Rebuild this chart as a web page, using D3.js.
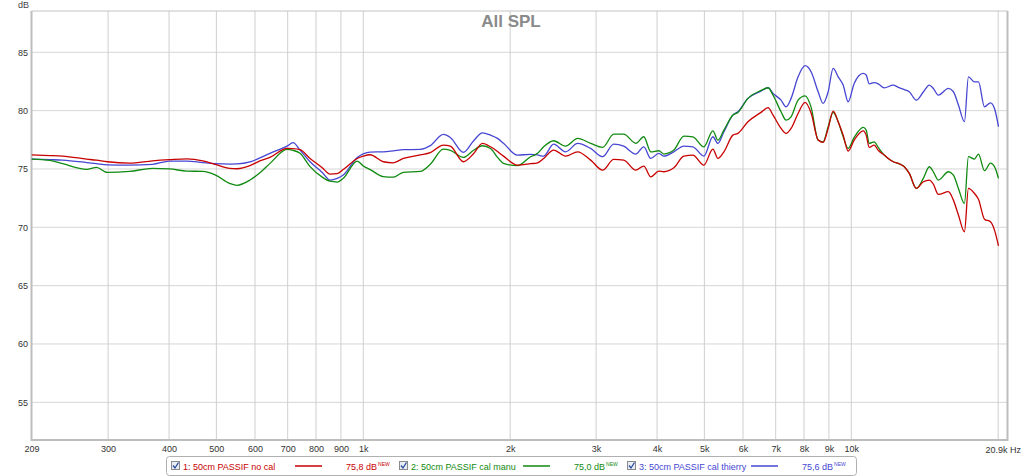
<!DOCTYPE html>
<html>
<head>
<meta charset="utf-8">
<title>All SPL</title>
<script src="https://cdn.jsdelivr.net/npm/d3@7"></script>
<style>
  html, body { margin: 0; padding: 0; background: #fff; }
  svg { display: block; font-family: "Liberation Sans", Arial, sans-serif; }
</style>
</head>
<body>
<div id="chart"></div>
<script>
const FREQS = [
  209, 228, 242, 271, 284, 299, 332, 370, 401, 435,
  469, 497, 533, 551, 586, 614, 644, 698, 718, 742,
  778, 824, 855, 884, 910, 972, 1000, 1033, 1099, 1152,
  1208, 1309, 1372, 1459, 1508, 1604, 1682, 1755, 1823, 1884,
  1938, 2070, 2202, 2276, 2342, 2455, 2598, 2750, 2924, 3094,
  3260, 3418, 3617, 3757, 3883, 4033, 4129, 4329, 4539, 4736,
  4988, 5205, 5330, 5483, 5721, 5858, 6141, 6533, 6752, 6914,
  7180, 7352, 7528, 7780, 8042, 8273, 8553, 8757, 8967, 9181,
  9400, 9625, 9855, 10139, 10579, 10730, 10883, 11143, 11356, 11683,
  12191, 12483, 12842, 13149, 13592, 14050, 14454, 14730, 15083, 15814,
  16192, 16580, 17057, 17382, 17883, 18225, 18749, 19288, 19656, 20032
];

// 1: 50cm PASSIF no cal
const SPL_NO_CAL = [
  76.2, 76.15, 76.1, 75.85, 75.75, 75.62, 75.5, 75.7, 75.8, 75.87,
  75.7, 75.4, 75.05, 75.02, 75.28, 75.7, 75.99, 76.76, 76.75, 76.65,
  75.9, 75.1, 74.56, 74.6, 74.95, 75.9, 76.1, 76.22, 75.62, 75.53,
  75.9, 76.2, 76.4, 77.05, 76.96, 75.62, 76.3, 77.19, 76.9, 76.5,
  76.1, 75.33, 75.45, 75.53, 75.9, 76.62, 76.1, 76.47, 75.76, 74.9,
  75.82, 75.76, 74.9, 75.25, 74.33, 74.82, 74.76, 75.1, 76.1, 76.19,
  75.33, 76.7, 75.9, 76.47, 77.9, 78.05, 79.05, 79.85, 80.25, 79.62,
  78.48, 78.05, 78.48, 79.76, 80.7, 79.8, 77.48, 77.28, 78.48, 79.96,
  79.05, 77.9, 76.53, 77.48, 78.27, 77.9, 76.85, 77.05, 76.6, 76.19,
  75.62, 75.48, 75.19, 74.62, 73.33, 73.9, 74.05, 73.7, 72.82, 73.05,
  72.33, 71.05, 69.62, 73.33, 72.9, 72.4, 70.7, 70.47, 69.76, 68.4
];

// 2: 50cm PASSIF cal manu
const SPL_CAL_MANU = [
  75.85, 75.73, 75.45, 74.97, 75.14, 74.7, 74.79, 75.05, 75.0, 74.82,
  74.79, 74.5, 73.75, 73.6, 74.05, 74.67, 75.48, 76.68, 76.6, 76.34,
  75.2, 74.3, 73.95, 73.88, 74.2, 75.68, 75.25, 74.95, 74.35, 74.3,
  74.71, 74.79, 75.4, 76.7, 76.6, 75.99, 76.6, 76.99, 76.76, 76.0,
  75.48, 75.28, 76.05, 76.34, 76.9, 77.42, 76.96, 77.62, 77.19, 76.85,
  77.99, 77.99, 77.2, 77.76, 76.47, 76.56, 76.28, 76.62, 77.82, 77.76,
  76.9, 78.27, 77.48, 78.33, 79.62, 79.85, 81.05, 81.73, 81.96, 81.33,
  79.9, 79.19, 79.47, 80.9, 81.27, 80.3, 77.48, 77.33, 78.62, 79.85,
  79.05, 77.76, 76.76, 77.7, 78.56, 78.33, 77.19, 77.33, 76.85, 76.19,
  75.62, 75.48, 75.19, 74.62, 73.33, 74.19, 75.19, 74.76, 74.05, 74.76,
  74.48, 73.33, 72.05, 76.05, 75.85, 76.28, 74.85, 75.5, 75.2, 74.19
];

// 3: 50cm PASSIF cal thierry
const SPL_CAL_THIERRY = [
  75.85, 75.8, 75.76, 75.55, 75.45, 75.35, 75.33, 75.4, 75.68, 75.68,
  75.55, 75.46, 75.42, 75.43, 75.6, 75.95, 76.34, 76.96, 77.25, 76.62,
  75.62, 74.7, 74.05, 74.2, 74.48, 75.99, 76.3, 76.45, 76.47, 76.55,
  76.65, 76.68, 77.0, 77.96, 77.7, 76.42, 77.4, 78.1, 77.9, 77.62,
  77.2, 76.19, 76.25, 76.2, 76.1, 77.13, 76.47, 77.19, 76.76, 76.05,
  77.13, 76.95, 76.28, 76.9, 75.9, 76.34, 76.1, 76.47, 76.96, 76.9,
  76.1, 77.76, 77.19, 78.19, 79.62, 79.9, 81.05, 81.67, 81.96, 81.48,
  80.9, 80.33, 81.05, 82.9, 83.85, 83.33, 81.62, 80.62, 81.62, 83.62,
  82.9, 82.19, 80.76, 82.33, 83.19, 83.05, 82.3, 82.4, 82.3, 81.95,
  82.19, 82.0, 81.8, 81.62, 80.9, 81.6, 82.19, 81.9, 81.33, 81.9,
  81.62, 80.48, 79.05, 82.9, 82.47, 82.47, 80.33, 80.67, 80.19, 78.62
];

const SERIES_NAMES = ['1: 50cm PASSIF no cal', '2: 50cm PASSIF cal manu', '3: 50cm PASSIF cal thierry'];
const SERIES_LEVELS = ['75,8 dB', '75,0 dB', '75,6 dB'];
const SERIES_COLORS = ['#c80000', '#108a10', '#4646d2'];

const X_TICKS = [209, 300, 400, 500, 600, 700, 800, 900, 1000, 2000, 3000, 4000, 5000, 6000, 7000, 8000, 9000, 10000];
const X_TICK_LABELS = ['209', '300', '400', '500', '600', '700', '800', '900', '1k', '2k', '3k', '4k', '5k', '6k', '7k', '8k', '9k', '10k'];
const X_GRID = [300, 400, 500, 600, 700, 800, 900, 1000, 2000, 3000, 4000, 5000, 6000, 7000, 8000, 9000, 10000, 20000];
const Y_TICKS = [55, 60, 65, 70, 75, 80, 85];

(function () {
  const width = 1024;
  const height = 476;
  const plot = { left: 31.5, right: 1007.5, top: 11, bottom: 440 };

  const x = d3.scaleLog().domain([209, 20900]).range([plot.left, plot.right]);
  const y = d3.scaleLinear().domain([51.77, 88.54]).range([plot.bottom, plot.top]);

  const svg = d3.select('#chart')
    .append('svg')
    .attr('width', width)
    .attr('height', height);

  const grid = svg.append('g').attr('class', 'grid');

  grid.selectAll('line.hgrid')
    .data(Y_TICKS)
    .enter()
    .append('line')
    .attr('class', 'hgrid')
    .attr('x1', plot.left)
    .attr('x2', plot.right)
    .attr('y1', d => y(d))
    .attr('y2', d => y(d))
    .attr('stroke', '#d6d6d6')
    .attr('stroke-width', 1);

  grid.selectAll('line.vgrid')
    .data(X_GRID)
    .enter()
    .append('line')
    .attr('class', 'vgrid')
    .attr('x1', d => x(d))
    .attr('x2', d => x(d))
    .attr('y1', plot.top)
    .attr('y2', plot.bottom)
    .attr('stroke', '#cfcfcf')
    .attr('stroke-width', 1);

  // frame: thin top, heavier left/bottom/right like the original
  svg.append('line')
    .attr('x1', plot.left).attr('x2', plot.right)
    .attr('y1', plot.top).attr('y2', plot.top)
    .attr('stroke', '#c4c4c4').attr('stroke-width', 1);
  svg.append('path')
    .attr('d', `M${plot.left},${plot.top}V${plot.bottom}H${plot.right}V${plot.top}`)
    .attr('fill', 'none')
    .attr('stroke', '#bdbdbd')
    .attr('stroke-width', 2);

  // axes
  const xAxis = d3.axisBottom(x)
    .tickValues(X_TICKS)
    .tickFormat((d, i) => X_TICK_LABELS[i])
    .tickSize(0)
    .tickPadding(6);

  const xg = svg.append('g')
    .attr('transform', `translate(0,${plot.bottom})`)
    .call(xAxis);
  xg.select('.domain').remove();
  xg.selectAll('text')
    .attr('font-size', 9)
    .attr('font-family', '"Liberation Sans", Arial, sans-serif')
    .attr('fill', '#333');

  svg.append('text')
    .attr('x', 1021)
    .attr('y', 453)
    .attr('text-anchor', 'end')
    .attr('font-size', 9)
    .attr('fill', '#333')
    .text('20.9k Hz');

  const yAxis = d3.axisLeft(y)
    .tickValues(Y_TICKS)
    .tickSize(0)
    .tickPadding(3);

  const yg = svg.append('g')
    .attr('transform', `translate(${plot.left - 0.5},0)`)
    .call(yAxis);
  yg.select('.domain').remove();
  yg.selectAll('text')
    .attr('font-size', 9)
    .attr('font-family', '"Liberation Sans", Arial, sans-serif')
    .attr('fill', '#333');

  svg.append('text')
    .attr('x', 18)
    .attr('y', 8)
    .attr('font-size', 9)
    .attr('fill', '#444')
    .text('dB');

  svg.append('text')
    .attr('x', 511)
    .attr('y', 27)
    .attr('text-anchor', 'middle')
    .attr('font-size', 17)
    .attr('font-weight', 'bold')
    .attr('fill', '#8a8a8a')
    .text('All SPL');

  // traces
  const seriesValues = [SPL_NO_CAL, SPL_CAL_MANU, SPL_CAL_THIERRY];
  const line = d3.line()
    .x(d => x(d[0]))
    .y(d => y(d[1]))
    .curve(d3.curveMonotoneX);

  const clip = svg.append('defs').append('clipPath').attr('id', 'plot-clip');
  clip.append('rect')
    .attr('x', plot.left).attr('y', plot.top)
    .attr('width', plot.right - plot.left)
    .attr('height', plot.bottom - plot.top);

  const traces = svg.append('g').attr('clip-path', 'url(#plot-clip)');
  // draw in reverse so trace 1 ends up on top
  [2, 1, 0].forEach(i => {
    const pts = FREQS.map((f, k) => [f, seriesValues[i][k]]);
    traces.append('path')
      .attr('d', line(pts))
      .attr('fill', 'none')
      .attr('stroke', SERIES_COLORS[i])
      .attr('stroke-width', 1.3)
      .attr('stroke-linejoin', 'round');
  });

  // legend
  const legend = svg.append('g').attr('class', 'legend');
  legend.append('rect')
    .attr('x', 166.5)
    .attr('y', 456.5)
    .attr('width', 690)
    .attr('height', 19)
    .attr('rx', 3)
    .attr('fill', '#fff')
    .attr('stroke', '#b0b0b0');

  const itemX = [171, 399, 627];
  const itemLayout = { text: 12, lineFrom: 124, lineTo: 151, level: 175 };

  SERIES_NAMES.forEach((name, i) => {
    const g = legend.append('g').attr('transform', `translate(${itemX[i]},0)`);
    const color = SERIES_COLORS[i];

    g.append('rect')
      .attr('x', 0.5).attr('y', 461.5)
      .attr('width', 8).attr('height', 8)
      .attr('fill', '#e8eef6')
      .attr('stroke', '#8a8a8a');
    g.append('path')
      .attr('d', 'M2,465.5 L4,468 L7.5,462.5')
      .attr('fill', 'none')
      .attr('stroke', '#2a4a9a')
      .attr('stroke-width', 1.3);

    g.append('text')
      .attr('x', itemLayout.text)
      .attr('y', 469.5)
      .attr('font-size', 9)
      .attr('fill', color)
      .text(name);

    g.append('line')
      .attr('x1', itemLayout.lineFrom).attr('x2', itemLayout.lineTo)
      .attr('y1', 466).attr('y2', 466)
      .attr('stroke', color)
      .attr('stroke-width', 1.5);

    const lv = g.append('text')
      .attr('x', itemLayout.level)
      .attr('y', 469.5)
      .attr('font-size', 9)
      .attr('fill', color)
      .text(SERIES_LEVELS[i]);
    lv.append('tspan')
      .attr('font-size', 5)
      .attr('dy', -3.5)
      .attr('dx', 1)
      .text('NEW');
  });
})();
</script>
</body>
</html>
